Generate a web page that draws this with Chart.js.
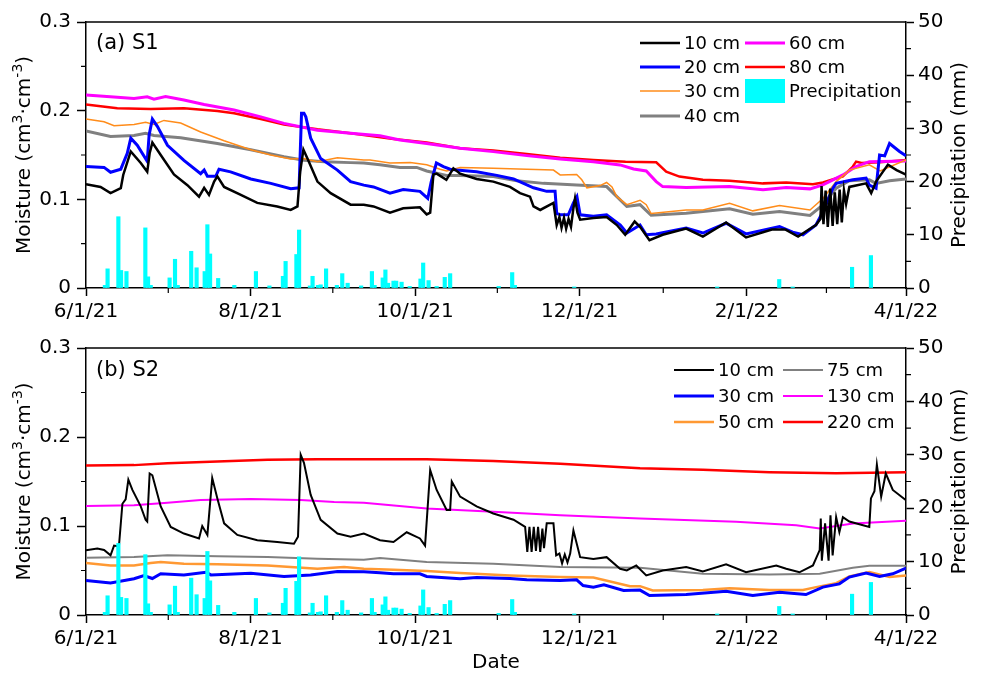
<!DOCTYPE html>
<html>
<head>
<meta charset="utf-8">
<script src="https://cdn.jsdelivr.net/npm/chart.js@4/dist/chart.umd.min.js"></script>
<style>
  html, body { margin: 0; padding: 0; background: #fff; }
  #wrap { position: relative; width: 983px; height: 678px; overflow: hidden; }
  #c1 { position: absolute; left: 0; top: 0; }
  #c2 { position: absolute; left: 0; top: 330px; }
</style>
</head>
<body>
<div id="wrap">
  <canvas id="c1" width="983" height="330"></canvas>
  <canvas id="c2" width="983" height="348"></canvas>
</div>
<script>
// Day 0 = 6/1/21, day 304 = 4/1/22
const tickDays   = [0, 61, 122, 183, 245, 304];
const tickLabels = ['6/1/21', '8/1/21', '10/1/21', '12/1/21', '2/1/22', '4/1/22'];

// Daily precipitation (mm), shared by both sites
const rainDays = [7, 8, 12, 13, 15, 22, 23, 24, 31, 33, 34, 39, 41, 44, 45, 46, 49, 55, 63, 68,
                  73, 74, 78, 79, 83, 84, 86, 87, 89, 93, 95, 97, 102, 106, 107, 110, 111, 112, 114, 115,
                  117, 120, 124, 125, 127, 130, 133, 135, 153, 158, 159, 181, 234, 257, 262, 284, 291];
const rainMm   = [0.5, 3.6, 13.4, 3.3, 3.1, 11.3, 2.1, 0.5, 1.9, 5.4, 0.5, 6.9, 3.8, 3.1, 11.9, 6.4, 1.8, 0.5, 3.1, 0.4,
                  2.2, 5.0, 6.3, 10.9, 0.4, 2.2, 0.5, 0.6, 3.6, 0.5, 2.7, 0.9, 0.4, 3.1, 0.5, 1.9, 3.4, 0.9, 1.3, 1.3,
                  1.1, 0.3, 1.7, 4.7, 1.4, 0.3, 2.0, 2.7, 0.3, 2.9, 0.5, 0.2, 0.2, 1.6, 0.2, 3.9, 6.1];

// ---- Site S1 soil moisture, [day, cm3/cm3] ----
const s1_10cm = [[0,0.117],[5.4,0.114],[9.1,0.107],[12.9,0.1125],[13.8,0.1275],[16.6,0.154],[20.3,0.141],[22.7,0.131],[23.6,0.152],[24.6,0.164],[27.7,0.150],[32.6,0.128],[37.6,0.116],[41.9,0.103],[43.8,0.113],[45.6,0.105],[47.5,0.120],[48.7,0.126],[51.2,0.114],[57.4,0.105],[63.5,0.096],[70.9,0.092],[75.9,0.088],[78.4,0.092],[79.4,0.131],[80.6,0.156],[82.1,0.146],[85.8,0.120],[90.7,0.107],[98.1,0.094],[103,0.094],[106.6,0.092],[112.7,0.085],[117.6,0.090],[123.8,0.091],[126.3,0.083],[127.6,0.085],[128.8,0.128],[130,0.129],[133.6,0.122],[136.2,0.135],[138.7,0.129],[144.8,0.123],[151,0.120],[157.2,0.114],[160.9,0.107],[164.6,0.103],[165.9,0.092],[168.4,0.088],[172.1,0.094],[173.3,0.096],[174.5,0.071],[175.5,0.080],[176.3,0.068],[177.2,0.079],[178,0.067],[178.9,0.078],[179.8,0.069],[180.7,0.090],[181.3,0.101],[182.2,0.085],[183.2,0.077],[188.1,0.079],[193,0.080],[196.8,0.071],[199.9,0.060],[203.4,0.075],[205.4,0.069],[208.9,0.054],[213.8,0.060],[222.5,0.067],[228.7,0.058],[237.3,0.074],[244.7,0.057],[254.3,0.066],[259.2,0.066],[264,0.058],[268,0.066],[270.6,0.071],[272.3,0.078],[272.7,0.115],[273.4,0.072],[274.2,0.110],[275,0.069],[275.9,0.112],[276.8,0.070],[277.6,0.108],[278.5,0.072],[279.4,0.111],[280.2,0.074],[281,0.110],[281.8,0.095],[283,0.114],[289.2,0.118],[291.1,0.107],[292.9,0.120],[295.4,0.131],[297.3,0.139],[300.5,0.133],[304,0.128]];
const s1_20cm = [[0,0.137],[6.7,0.136],[9.1,0.1305],[12.9,0.134],[15.3,0.152],[16.6,0.169],[19,0.161],[22.7,0.143],[23.4,0.1725],[24.6,0.1905],[26.5,0.182],[30.2,0.161],[36.3,0.144],[42.5,0.129],[43.8,0.133],[45,0.126],[48.1,0.126],[49.3,0.134],[53.6,0.131],[61.1,0.123],[68.5,0.118],[75.9,0.112],[79,0.113],[79.9,0.197],[80.8,0.197],[81.5,0.193],[83.3,0.169],[87,0.146],[93.2,0.133],[98.1,0.120],[103,0.116],[106.6,0.114],[112.7,0.107],[117.6,0.111],[123.8,0.109],[126.7,0.101],[128,0.120],[129.9,0.141],[132.5,0.137],[135,0.134],[137.4,0.133],[144.8,0.131],[152.3,0.127],[158.5,0.123],[165.9,0.113],[170.8,0.109],[173.9,0.109],[174.5,0.084],[175.8,0.0825],[178.8,0.0825],[180.7,0.096],[182,0.103],[183.2,0.0825],[188.1,0.081],[193,0.0825],[198.1,0.071],[200.5,0.062],[205.4,0.071],[207.7,0.060],[211.4,0.061],[222.5,0.0675],[228.7,0.062],[237.3,0.073],[244.7,0.061],[257.1,0.0694],[262,0.063],[265.8,0.060],[270.6,0.071],[273.2,0.086],[276.9,0.1125],[278.1,0.118],[284.3,0.122],[289.2,0.124],[290.4,0.116],[292.9,0.1125],[294.2,0.150],[296.1,0.149],[297.9,0.163],[301.6,0.154],[304,0.149]];
const s1_30cm = [[0,0.1905],[6.7,0.1875],[10.4,0.183],[17.8,0.1845],[22.1,0.187],[25.2,0.1845],[28.9,0.189],[35.1,0.186],[42.5,0.176],[51.2,0.166],[61.1,0.156],[68.5,0.150],[75.9,0.1455],[80.8,0.146],[85.8,0.1425],[93.2,0.147],[103,0.1444],[105.3,0.1444],[112.7,0.141],[120.2,0.1414],[126.3,0.139],[131.3,0.134],[133.7,0.132],[138.7,0.136],[151,0.135],[163.4,0.134],[173.3,0.133],[175.8,0.1275],[181.9,0.128],[183.8,0.122],[185.7,0.113],[190.6,0.1155],[193,0.119],[195,0.114],[196.8,0.103],[200.5,0.094],[205.4,0.099],[207.7,0.094],[209.5,0.084],[222.5,0.088],[228.7,0.088],[238.6,0.0956],[247.2,0.087],[257.1,0.093],[268.4,0.088],[273.2,0.101],[278.1,0.120],[283,0.133],[290.4,0.139],[294.4,0.132],[304,0.1444]];
const s1_40cm = [[0,0.177],[9.1,0.171],[17.8,0.172],[22.1,0.1744],[25.2,0.172],[35.1,0.1695],[48.7,0.163],[61.1,0.156],[73.4,0.148],[80.8,0.144],[88.3,0.1425],[98.1,0.1414],[103,0.141],[109,0.139],[116.4,0.136],[122.6,0.136],[126.3,0.132],[130,0.1294],[133.6,0.127],[138.7,0.127],[151,0.1257],[159.7,0.121],[169.6,0.118],[181.9,0.1163],[193,0.1144],[196.8,0.103],[200.5,0.092],[205.4,0.094],[209.5,0.082],[222.5,0.0844],[238.6,0.0893],[247.2,0.0833],[257.1,0.0863],[268.4,0.0818],[273.2,0.0938],[278.1,0.1125],[283,0.121],[290.4,0.122],[292.9,0.118],[297.9,0.121],[304,0.123]];
const s1_60cm = [[0,0.2176],[11.6,0.215],[17.8,0.2138],[22.7,0.2157],[25.2,0.213],[29.5,0.216],[36.3,0.212],[43.8,0.207],[54.9,0.2007],[64.8,0.193],[73.4,0.1857],[85.8,0.178],[98.1,0.1744],[109,0.1718],[116.4,0.167],[126.3,0.163],[138.7,0.1575],[151,0.1538],[163.4,0.1493],[175.8,0.1455],[188.1,0.1425],[198,0.1388],[203,0.1343],[207.7,0.132],[211.4,0.120],[213.8,0.1144],[222.5,0.1133],[238.6,0.1144],[251,0.1107],[259.6,0.1133],[268.4,0.1118],[273.2,0.1163],[280.6,0.1275],[285.5,0.137],[290.4,0.1425],[304,0.1433]];
const s1_80cm = [[0,0.207],[11.6,0.2026],[24,0.2018],[36.3,0.2026],[48.7,0.1996],[54.9,0.197],[64.8,0.1905],[73.4,0.1845],[85.8,0.179],[98.1,0.1744],[103,0.1725],[114,0.168],[126.3,0.164],[138.7,0.1575],[151,0.155],[163.4,0.151],[175.8,0.147],[188.1,0.1444],[200,0.1425],[211.4,0.1418],[215.1,0.1313],[220,0.1257],[228.7,0.122],[238.6,0.121],[251,0.118],[259.6,0.119],[269.5,0.117],[273.2,0.119],[280.6,0.126],[284.3,0.137],[285.5,0.1425],[287.5,0.141],[294.4,0.1418],[304,0.1444]];

// ---- Site S2 soil moisture, [day, cm3/cm3] ----
const s2_10cm = [[0,0.0727],[4.2,0.0746],[6.7,0.073],[9.1,0.067],[10.4,0.078],[12.2,0.077],[13.5,0.125],[14.7,0.130],[15.7,0.152],[17.2,0.1405],[20.3,0.122],[22.1,0.107],[22.7,0.105],[23.6,0.159],[24.6,0.157],[27.7,0.122],[31.4,0.099],[36.3,0.0915],[41.9,0.086],[43.1,0.100],[45,0.090],[46.8,0.154],[48.7,0.131],[51.2,0.103],[56.1,0.090],[63.5,0.084],[70.9,0.082],[77.1,0.080],[78.6,0.088],[79.6,0.180],[80.8,0.171],[83.3,0.135],[87,0.107],[93.2,0.0915],[98.1,0.088],[103,0.0915],[109,0.084],[114,0.082],[118.9,0.093],[123.8,0.086],[125.7,0.078],[127.6,0.163],[130,0.1405],[133.7,0.118],[135,0.118],[135.6,0.150],[138.7,0.133],[144.8,0.122],[151,0.114],[158.5,0.107],[162.8,0.099],[163.6,0.071],[164.4,0.099],[165.2,0.071],[166,0.099],[166.8,0.072],[167.6,0.099],[168.4,0.071],[169.2,0.097],[169.8,0.075],[170.8,0.103],[173.3,0.103],[174.3,0.067],[175.5,0.069],[176.5,0.058],[177.5,0.068],[178.5,0.059],[179.5,0.069],[180.7,0.095],[183.2,0.065],[188.1,0.063],[193,0.065],[198,0.052],[200.5,0.050],[204,0.0557],[207.7,0.0444],[213.8,0.050],[222.5,0.054],[228.7,0.049],[237.3,0.057],[244.7,0.048],[255.9,0.0557],[259.6,0.052],[264.5,0.048],[269.5,0.0557],[272,0.073],[272.4,0.1085],[272.8,0.061],[274,0.103],[275.3,0.061],[276,0.112],[276.8,0.067],[278.1,0.110],[279.3,0.093],[280.6,0.110],[283,0.105],[290.4,0.099],[291,0.131],[292.3,0.139],[293.2,0.169],[294.8,0.133],[296.5,0.159],[299.1,0.1405],[304,0.129]];
const s2_30cm = [[0,0.0388],[9.1,0.036],[17.8,0.0407],[21.5,0.0444],[24.6,0.041],[27.7,0.0463],[36.3,0.045],[44.4,0.048],[46.3,0.045],[61.1,0.047],[73.4,0.0433],[83.3,0.045],[93.2,0.049],[103,0.0485],[109,0.0475],[114,0.0463],[123.8,0.0463],[126.3,0.0433],[138.7,0.0407],[144.8,0.042],[157.2,0.041],[163.4,0.0395],[175.8,0.0388],[181.9,0.0395],[184.3,0.0331],[188.1,0.0313],[192,0.034],[199.3,0.0275],[205.4,0.028],[208.9,0.0218],[222.5,0.023],[237.3,0.0267],[247.2,0.022],[257.1,0.0256],[266.9,0.023],[273.2,0.0313],[279.3,0.035],[283,0.0426],[289.2,0.0471],[294.2,0.0433],[299.1,0.0463],[304,0.0527]];
const s2_50cm = [[0,0.0584],[9.1,0.0557],[17.8,0.0557],[24,0.0584],[27.7,0.0595],[36.3,0.0576],[48.7,0.0569],[67.3,0.0557],[85.8,0.052],[95.7,0.0539],[103,0.052],[114,0.0508],[126.3,0.0493],[138.7,0.0471],[157.2,0.0444],[175.8,0.0426],[188.1,0.042],[195.5,0.0369],[201.7,0.0324],[205.4,0.0324],[210.1,0.0275],[228.7,0.0282],[238.6,0.0301],[253.4,0.028],[265.8,0.028],[270.7,0.0313],[278.1,0.0358],[283,0.0433],[290.4,0.0482],[297.9,0.0426],[304,0.0444]];
const s2_75cm = [[0,0.0644],[17.8,0.0652],[30.2,0.067],[48.7,0.0659],[67.3,0.0652],[85.8,0.0633],[103,0.0621],[109,0.064],[126.3,0.0595],[151,0.0576],[175.8,0.0539],[205.4,0.0531],[228.7,0.0463],[253.4,0.0456],[272,0.0463],[284.3,0.0531],[290.4,0.0554],[304,0.0554]];
const s2_130cm = [[0,0.1224],[17.8,0.1232],[30.2,0.1262],[42.5,0.1292],[61.1,0.1303],[79.6,0.1292],[92,0.1269],[103,0.1262],[126.3,0.1198],[151,0.116],[175.8,0.1122],[205.4,0.1085],[241,0.1047],[263.3,0.1009],[272,0.0972],[284.3,0.1028],[304,0.1058]];
const s2_220cm = [[0,0.168],[17.8,0.1684],[30.2,0.1706],[48.7,0.1725],[67.3,0.1744],[85.8,0.1751],[126.3,0.1751],[151,0.1729],[175.8,0.1699],[205.4,0.165],[228.7,0.1631],[253.4,0.1605],[278.1,0.1593],[304,0.1605]];

const FONT = 'DejaVu Sans';
Chart.defaults.font.family = FONT;
Chart.defaults.color = '#000';

const pts = arr => arr.map(p => ({ x: p[0], y: p[1] }));
const rainData = rainDays.map((d, i) => ({ x: d, y: rainMm[i] }));

function line(label, data, color, width) {
  return { type: 'line', label, data: pts(data), borderColor: color, backgroundColor: color,
           borderWidth: width, pointRadius: 0, tension: 0, yAxisID: 'y', order: 2 };
}
function rain() {
  return { type: 'bar', label: 'Precipitation', data: rainData, backgroundColor: '#00ffff',
           borderWidth: 0, barThickness: 3.5, yAxisID: 'y2', order: 0 };
}

// Rotated axis title with raised exponents
function drawVerticalTitle(ctx, parts, cx, cy) {
  ctx.save();
  let total = 0;
  parts.forEach(p => { ctx.font = p.font; p.w = ctx.measureText(p.t).width; total += p.w; });
  ctx.translate(cx, cy);
  ctx.rotate(-Math.PI / 2);
  ctx.textAlign = 'left';
  ctx.textBaseline = 'middle';
  ctx.fillStyle = '#000';
  let x = -total / 2;
  parts.forEach(p => { ctx.font = p.font; ctx.fillText(p.t, x, p.dy); x += p.w; });
  ctx.restore();
}

// Frame, minor ticks, panel tag, legend and axis titles
const panelDecor = {
  id: 'panelDecor',
  afterDraw(chart, args, o) {
    const { ctx, chartArea: a, scales } = chart;
    ctx.save();
    ctx.strokeStyle = '#000';
    ctx.lineWidth = 1.5;
    ctx.beginPath();
    ctx.moveTo(a.left, a.top); ctx.lineTo(a.right, a.top);
    ctx.stroke();

    ctx.lineWidth = 1.2;
    ctx.beginPath();
    for (let i = 0; i < tickDays.length - 1; i++) {
      const px = scales.x.getPixelForValue((tickDays[i] + tickDays[i + 1]) / 2);
      ctx.moveTo(px, a.bottom); ctx.lineTo(px, a.bottom + 5);
    }
    [0.05, 0.15, 0.25].forEach(v => {
      const py = scales.y.getPixelForValue(v);
      ctx.moveTo(a.left - 5, py); ctx.lineTo(a.left, py);
    });
    [5, 15, 25, 35, 45].forEach(v => {
      const py = scales.y2.getPixelForValue(v);
      ctx.moveTo(a.right, py); ctx.lineTo(a.right + 5, py);
    });
    ctx.stroke();

    ctx.fillStyle = '#000';
    ctx.font = '21px "' + FONT + '"';
    ctx.textBaseline = 'middle';
    ctx.textAlign = 'left';
    ctx.fillText(o.tag, a.left + 10, o.tagY);

    // legend
    ctx.font = '18px "' + FONT + '"';
    o.legend.forEach(it => {
      const ds = chart.data.datasets[it.ds];
      const x = o.colX[it.col], y = o.rowY[it.row];
      if (ds.type === 'bar') {
        ctx.fillStyle = ds.backgroundColor;
        ctx.fillRect(x, y - 12, 40, 24);
      } else {
        ctx.strokeStyle = ds.borderColor;
        ctx.lineWidth = ds.borderWidth;
        ctx.beginPath(); ctx.moveTo(x, y); ctx.lineTo(x + 40, y); ctx.stroke();
      }
      ctx.fillStyle = '#000';
      ctx.fillText(ds.label, x + 44, y + 1);
    });
    ctx.restore();

    const midY = (a.top + a.bottom) / 2;
    const big = '20px "' + FONT + '"', small = '14px "' + FONT + '"';
    drawVerticalTitle(ctx, [
      { t: 'Moisture (cm', font: big, dy: 0 },
      { t: '3', font: small, dy: -7 },
      { t: '·cm', font: big, dy: 0 },
      { t: '-3', font: small, dy: -7 },
      { t: ')', font: big, dy: 0 }
    ], 25, midY);
    drawVerticalTitle(ctx, [{ t: 'Precipitation (mm)', font: big, dy: 0 }], 960, midY);
  }
};

function makeOptions(xHeight, padTop, decor, showDate) {
  return {
    responsive: false,
    animation: false,
    layout: { padding: { top: padTop, left: 0, right: 0, bottom: 0 } },
    plugins: { legend: { display: false }, tooltip: { enabled: false }, panelDecor: decor },
    scales: {
      x: {
        type: 'linear', min: 0, max: 304, position: 'bottom', offset: false,
        afterBuildTicks: s => { s.ticks = tickDays.map(v => ({ value: v })); },
        afterFit: s => { s.height = xHeight; },
        ticks: { autoSkip: false, maxRotation: 0, padding: 4, font: { size: 20 }, color: '#000',
                 callback: v => tickLabels[tickDays.indexOf(v)] },
        grid: { offset: false, drawOnChartArea: false, drawTicks: true, tickLength: 8, tickColor: '#000', tickWidth: 1.5 },
        border: { color: '#000', width: 1.5 },
        title: { display: showDate, text: 'Date', font: { size: 20 }, color: '#000', padding: { top: 0, bottom: 3 } }
      },
      y: {
        position: 'left', min: 0, max: 0.3,
        afterFit: s => { s.width = 86; },
        ticks: { stepSize: 0.1, padding: 6, font: { size: 20 }, color: '#000',
                 callback: v => (v === 0 ? '0' : v.toFixed(1)) },
        grid: { drawOnChartArea: false, drawTicks: true, tickLength: 9, tickColor: '#000', tickWidth: 1.5 },
        border: { color: '#000', width: 1.5 }
      },
      y2: {
        position: 'right', min: 0, max: 50,
        afterFit: s => { s.width = 77; },
        ticks: { stepSize: 10, padding: 4, font: { size: 20 }, color: '#000' },
        grid: { drawOnChartArea: false, drawTicks: true, tickLength: 8, tickColor: '#000', tickWidth: 1.5 },
        border: { color: '#000', width: 1.5 }
      }
    }
  };
}

new Chart(document.getElementById('c1'), {
  data: {
    datasets: [
      line('10 cm', s1_10cm, '#000000', 2.5),
      line('20 cm', s1_20cm, '#0000ff', 3),
      line('30 cm', s1_30cm, '#ff8c1a', 1.5),
      line('40 cm', s1_40cm, '#808080', 3),
      line('60 cm', s1_60cm, '#ff00ff', 3),
      line('80 cm', s1_80cm, '#ff0000', 2.5),
      rain()
    ]
  },
  options: makeOptions(42, 22, {
    tag: '(a) S1', tagY: 44,
    colX: [640, 745], rowY: [43, 67, 91, 116],
    legend: [
      { ds: 0, col: 0, row: 0 }, { ds: 1, col: 0, row: 1 }, { ds: 2, col: 0, row: 2 }, { ds: 3, col: 0, row: 3 },
      { ds: 4, col: 1, row: 0 }, { ds: 5, col: 1, row: 1 }, { ds: 6, col: 1, row: 2 }
    ]
  }, false),
  plugins: [panelDecor]
});

new Chart(document.getElementById('c2'), {
  data: {
    datasets: [
      line('10 cm', s2_10cm, '#000000', 2),
      line('30 cm', s2_30cm, '#0000ff', 3),
      line('50 cm', s2_50cm, '#ff9933', 2.5),
      line('75 cm', s2_75cm, '#808080', 2),
      line('130 cm', s2_130cm, '#ff00ff', 2),
      line('220 cm', s2_220cm, '#ff0000', 2.5),
      rain()
    ]
  },
  options: makeOptions(63, 18, {
    tag: '(b) S2', tagY: 41,
    colX: [674, 783], rowY: [40, 66, 92],
    legend: [
      { ds: 0, col: 0, row: 0 }, { ds: 1, col: 0, row: 1 }, { ds: 2, col: 0, row: 2 },
      { ds: 3, col: 1, row: 0 }, { ds: 4, col: 1, row: 1 }, { ds: 5, col: 1, row: 2 }
    ]
  }, true),
  plugins: [panelDecor]
});
</script>
</body>
</html>
